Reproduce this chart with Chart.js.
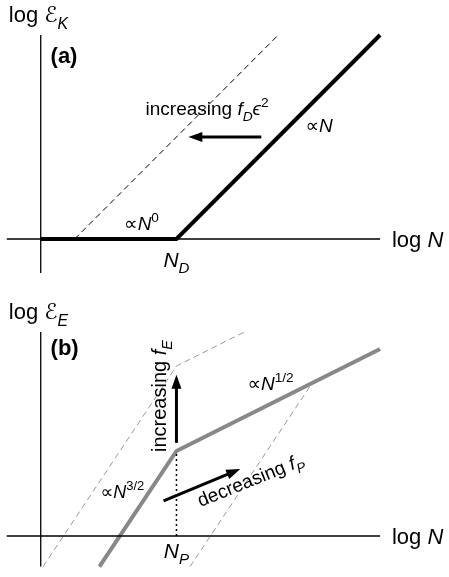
<!DOCTYPE html>
<html>
<head>
<meta charset="utf-8">
<script src="https://cdn.jsdelivr.net/npm/chart.js@4.4.1/dist/chart.umd.min.js"></script>
<style>
  body { margin: 0; background: #fff; }
  canvas { display: block; }
</style>
</head>
<body>
<canvas id="panelA" width="449" height="288"></canvas>
<canvas id="panelB" width="449" height="289"></canvas>
<script>
// log N on x, log energy on y (arbitrary units)
const axisX = [[-1, 0], [10, 0]];

// (a) kinetic energy: flat, then slope 1
const axisYA = [[0, -1], [0, 6]];
const energyK = [[0, 0], [4, 0], [10, 6]];
const energyKShifted = [[1, 0], [7, 6]];

// (b) elastic energy: slope 3/2, then slope 1/2
const axisYB = [[0, -0.9], [0, 6]];
const energyE = [[1.73, -0.9], [4, 2.5], [10, 5.5]];
const energyEUp = [[0.07, -0.9], [4, 5], [6, 6]];
const energyERight = [[4.4, -0.9], [8, 4.5]];
const markNP = [[4, 0], [4, 2.5]];

const FONT = '"Liberation Sans", "DejaVu Sans", Arial, sans-serif';
const UNIT = 34; // px per log unit

function line(data, color, width, dash) {
  return {
    data: data.map(p => ({ x: p[0], y: p[1] })),
    showLine: true,
    borderColor: color,
    borderWidth: width,
    borderDash: dash || [],
    pointRadius: 0,
    tension: 0,
    clip: false
  };
}

function fontOf(style, size) {
  let s = size;
  if (style.includes('s') || style.includes('p')) s = size * 0.72;
  let f = '';
  if (style.includes('i')) f += 'italic ';
  if (style.includes('b')) f += 'bold ';
  return f + s + 'px ' + FONT;
}

// draw a run of text pieces: [text, style] with style i=italic b=bold s=sub p=sup
function drawRich(ctx, x, y, parts, size, align, angle) {
  ctx.save();
  ctx.translate(x, y);
  ctx.rotate((angle || 0) * Math.PI / 180);
  ctx.fillStyle = '#000';
  ctx.textBaseline = 'alphabetic';
  ctx.textAlign = 'left';
  const widths = parts.map(p => { ctx.font = fontOf(p[1], size); return ctx.measureText(p[0]).width; });
  const total = widths.reduce((a, b) => a + b, 0);
  let cx = align === 'center' ? -total / 2 : 0;
  parts.forEach((p, i) => {
    ctx.font = fontOf(p[1], size);
    let dy = 0;
    if (p[1].includes('s')) dy = size * 0.3;
    if (p[1].includes('p')) dy = -size * 0.42;
    ctx.fillText(p[0], cx, dy);
    cx += widths[i];
  });
  ctx.restore();
}

function drawArrow(ctx, x0, y0, x1, y1) {
  const a = Math.atan2(y1 - y0, x1 - x0);
  const head = 14, half = 5;
  const bx = x1 - head * Math.cos(a), by = y1 - head * Math.sin(a);
  ctx.save();
  ctx.strokeStyle = '#000';
  ctx.fillStyle = '#000';
  ctx.lineWidth = 3;
  ctx.beginPath();
  ctx.moveTo(x0, y0);
  ctx.lineTo(bx + 2 * Math.cos(a), by + 2 * Math.sin(a));
  ctx.stroke();
  ctx.beginPath();
  ctx.moveTo(x1, y1);
  ctx.lineTo(bx + half * Math.sin(a), by - half * Math.cos(a));
  ctx.lineTo(bx - half * Math.sin(a), by + half * Math.cos(a));
  ctx.closePath();
  ctx.fill();
  ctx.restore();
}

function notes(labels, arrows) {
  return {
    id: 'notes',
    afterDatasetsDraw(chart) {
      const ctx = chart.ctx;
      const sx = chart.scales.x, sy = chart.scales.y;
      arrows.forEach(a => drawArrow(ctx,
        sx.getPixelForValue(a[0]), sy.getPixelForValue(a[1]),
        sx.getPixelForValue(a[2]), sy.getPixelForValue(a[3])));
      labels.forEach(l => drawRich(ctx,
        sx.getPixelForValue(l.at[0]), sy.getPixelForValue(l.at[1]),
        l.parts, l.size, l.align, l.angle));
    }
  };
}

// origin is where the two axes cross, in canvas pixels
function makePanel(id, datasets, origin, yRange, labels, arrows) {
  const canvas = document.getElementById(id);
  const xRange = [-1.2, 11];
  return new Chart(canvas, {
    type: 'scatter',
    data: { datasets: datasets },
    options: {
      responsive: false,
      animation: false,
      events: [],
      layout: {
        padding: {
          left: origin[0] + xRange[0] * UNIT,
          right: canvas.width - (origin[0] + xRange[1] * UNIT),
          top: origin[1] - yRange[1] * UNIT,
          bottom: canvas.height - (origin[1] - yRange[0] * UNIT)
        }
      },
      scales: {
        x: { type: 'linear', display: false, min: xRange[0], max: xRange[1] },
        y: { type: 'linear', display: false, min: yRange[0], max: yRange[1] }
      },
      plugins: { legend: { display: false }, tooltip: { enabled: false } }
    },
    plugins: [notes(labels, arrows)]
  });
}

makePanel('panelA', [
  line(axisX, '#000', 1.3),
  line(axisYA, '#000', 1.3),
  line(energyKShifted, '#000', 1, [6, 4]),
  line(energyK, '#000', 4)
], [40, 239], [-1.3, 7], [
  { at: [-0.94, 6.38], parts: [['log ', ''], ['ℰ', ''], ['K', 'is']], size: 22 },
  { at: [0.29, 5.18], parts: [['(a)', 'b']], size: 22 },
  { at: [2.97, 0.26], parts: [['∝', ''], ['N', 'i'], ['0', 'p']], size: 19, align: 'center' },
  { at: [4, -0.82], parts: [['N', 'i'], ['D', 'is']], size: 21, align: 'center' },
  { at: [7.8, 3.15], parts: [['∝', ''], ['N', 'i']], size: 19 },
  { at: [3.09, 3.65], parts: [['increasing ', ''], ['f', 'i'], ['D', 'is'], ['ϵ', 'i'], ['2', 'p']], size: 19 },
  { at: [10.35, -0.24], parts: [['log ', ''], ['N', 'i']], size: 22 }
], [
  [6.5, 3, 4.35, 3]
]);

makePanel('panelB', [
  line(axisX, '#000', 1.3),
  line(axisYB, '#000', 1.3),
  line(markNP, '#000', 1.5, [2, 3]),
  line(energyEUp, '#999', 1, [6, 4]),
  line(energyERight, '#999', 1, [6, 4]),
  line(energyE, '#888', 4)
], [40, 248], [-1, 7.2], [
  { at: [-0.94, 6.38], parts: [['log ', ''], ['ℰ', ''], ['E', 'is']], size: 22 },
  { at: [0.29, 5.32], parts: [['(b)', 'b']], size: 22 },
  { at: [3.7, 2.47], parts: [['increasing ', ''], ['f', 'i'], ['E', 'is']], size: 20, angle: -90 },
  { at: [6.09, 4.29], parts: [['∝', ''], ['N', 'i'], ['1/2', 'p']], size: 19 },
  { at: [1.76, 1.12], parts: [['∝', ''], ['N', 'i'], ['3/2', 'p']], size: 18 },
  { at: [4, -0.65], parts: [['N', 'i'], ['P', 'is']], size: 21, align: 'center' },
  { at: [4.71, 0.85], parts: [['decreasing ', ''], ['f', 'i'], ['P', 'is']], size: 19, angle: -22 },
  { at: [10.35, -0.24], parts: [['log ', ''], ['N', 'i']], size: 22 }
], [
  [4, 2.74, 4, 4.74],
  [3.62, 1.03, 5.88, 1.97]
]);
</script>
</body>
</html>
